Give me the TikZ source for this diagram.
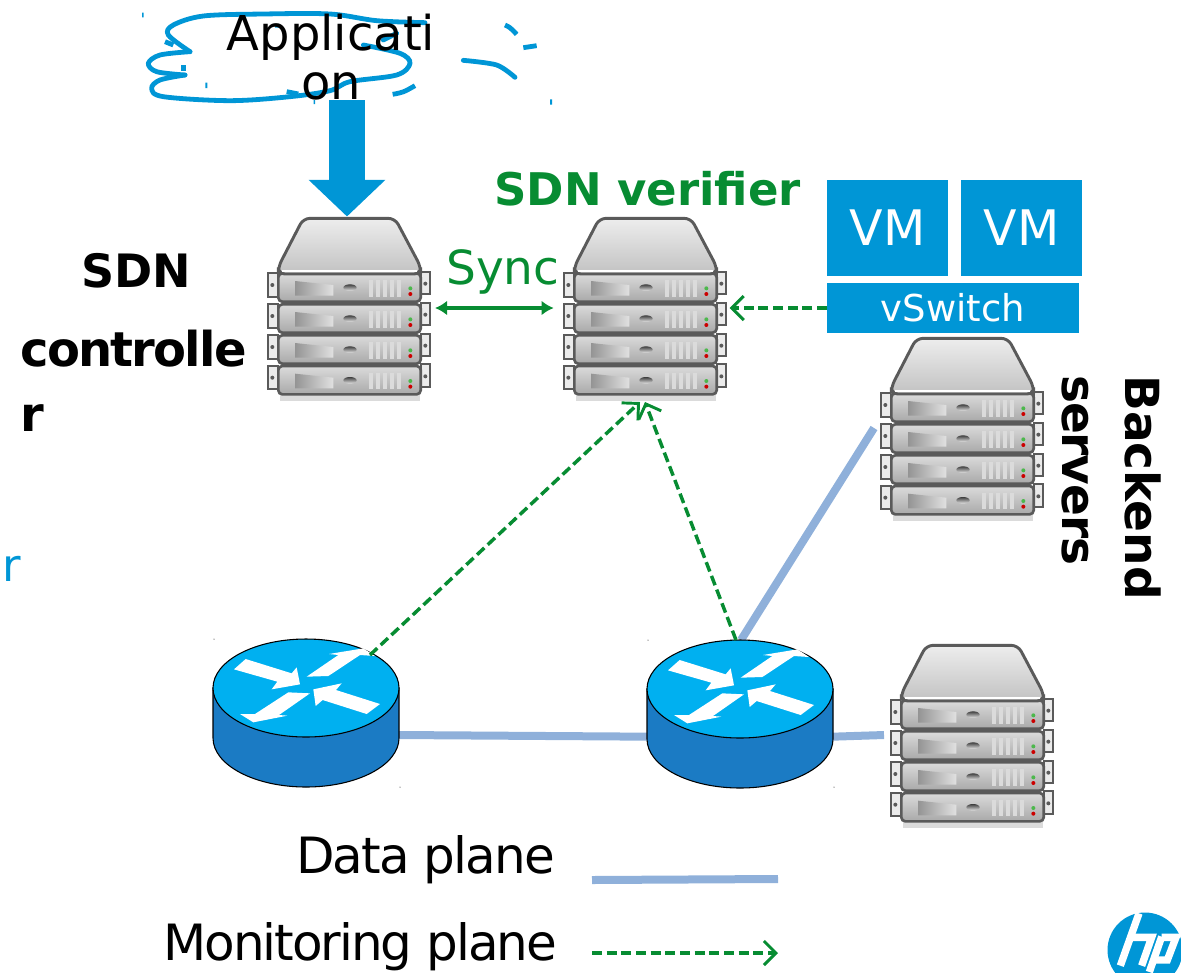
\documentclass[tikz,border=0pt]{standalone}
\usepackage{fontspec}
\setmainfont{DejaVu Sans}
\usetikzlibrary{arrows.meta,calc}
\definecolor{hpblue}{HTML}{0096D6}
\definecolor{vergreen}{HTML}{078C32}
\definecolor{dataline}{HTML}{8FB0DA}
\definecolor{rtop}{HTML}{00B0F0}
\definecolor{rside}{HTML}{1B7BC4}
\definecolor{srvedge}{HTML}{5A5A5A}
\newcommand{\pxsize}[1]{\fontsize{\dimexpr#1pt*3/4\relax}{\dimexpr#1pt*3/4\relax}\selectfont}
\newcommand{\srvunit}[1]{%
  \begin{scope}[yshift=#1*-0.25pt]
    \fill[white!92!black,draw=srvedge,line width=1.5pt] (40,205) rectangle (68,275);
    \fill[white!92!black,draw=srvedge,line width=1.5pt] (497,200) rectangle (525,268);
    \fill[srvedge] (52,240) circle (6);
    \fill[srvedge] (511,236) circle (6);
    \shade[top color=white!86!black,bottom color=white!66!black,draw=srvedge,line width=2pt,rounded corners=3pt] (70,205) rectangle (497,290);
    \shade[left color=white!58!black,right color=white!88!black] (120,228) -- (235,240) -- (235,272) -- (120,272) -- cycle;
    \shade[top color=white!25!black,bottom color=white!90!black] (285,248) ellipse (20 and 10);
    \foreach \vx in {342,363,384,405,426}{\fill[white!86!black] (\vx,225) rectangle +(12,50);}
    \fill[green!60!black!70!white] (466,250) circle (6);
    \fill[red!80!black] (466,267) circle (6);
  \end{scope}}
\tikzset{
  serverbox/.style={minimum width=123pt,minimum height=137.25pt,inner sep=0pt,outer sep=0pt},
  routerbox/.style={minimum width=139.5pt,minimum height=111pt,inner sep=0pt,outer sep=0pt},
  vmbox/.style={fill=hpblue,text=white,inner sep=0pt,outer sep=0pt,font=\pxsize{49}},
  dataedge/.style={dataline,line width=6pt},
  monedge/.style={vergreen,line width=2.6pt,dash pattern=on 7.5pt off 3.5pt,-{Straight Barb[length=9pt,width=18pt,line width=2.2pt]}},
  syncedge/.style={vergreen,line width=2.4pt,{Latex[length=9pt,width=11pt]}-{Latex[length=9pt,width=11pt]}},
  appedge/.style={hpblue,line width=27pt,-{Triangle[length=27.5pt,width=56pt]}},
  cloudline/.style={hpblue,line width=3.6pt,line cap=round,line join=round},
  servericon/.pic={
    \begin{scope}[x=0.25pt,y=-0.25pt,shift={(-282,-309)}]
      \fill[black!14] (75,570) rectangle (495,587);
      \srvunit{278}
      \srvunit{186}
      \srvunit{93}
      \srvunit{0}
      \shade[top color=white!93!black,bottom color=white!76!black,draw=srvedge,line width=2.2pt,rounded corners=5pt]
        (145,40) -- (420,40) -- (497,185) -- (497,207) -- (70,207) -- (70,185) -- cycle;
      \draw[white,line width=1.2pt] (80,198) -- (487,198);
    \end{scope}
  },
  routericon/.pic={
    \begin{scope}[x=0.75pt,y=-0.75pt]
      \fill[rside,draw=black,line width=0.8pt] (-93,0) -- (-93,50) arc[start angle=180,end angle=0,x radius=93,y radius=49] -- (93,0) -- cycle;
      \fill[rtop,draw=black,line width=0.8pt] (0,0) ellipse (93 and 49);
      \begin{scope}[x=0.25pt,y=-0.25pt,shift={(-318,-174)}]
        \fill[white] (137,87) -- (275,130) -- (290,112) -- (300,163) -- (215,178) -- (232,155) -- (102,118) -- cycle;
        \fill[white] (320,140) -- (415,75) -- (387,72) -- (490,55) -- (525,78) -- (480,75) -- (385,138) -- cycle;
        \fill[white] (265,187) -- (330,190) -- (237,255) -- (262,257) -- (160,277) -- (120,252) -- (165,252) -- cycle;
        \fill[white] (340,178) -- (425,160) -- (408,180) -- (540,222) -- (500,252) -- (368,210) -- (347,228) -- cycle;
      \end{scope}
    \end{scope}
  }
}
\begin{document}
\begin{tikzpicture}[x=0.75pt,y=-0.75pt]
\useasboundingbox (0,0) rectangle (1181,972);
\clip (0,0) rectangle (1181,972);

% hand-drawn cloud
\begin{scope}[x=0.25pt,y=-0.25pt,shift={(390,0)}]
  \draw[cloudline] plot[smooth,tension=0.55] coordinates {(885,68) (740,62) (600,42) (400,42) (220,48) (130,75) (115,105) (180,155)};
  \draw[cloudline] plot[smooth,tension=0.55] coordinates {(180,155) (90,165) (55,190) (80,215) (165,225)};
  \draw[cloudline] plot[smooth,tension=0.55] coordinates {(165,225) (90,240) (65,265) (100,290) (300,302) (480,290) (600,272) (660,245) (800,225) (840,190) (810,160) (700,135)};
  \draw[cloudline] (760,120) -- (800,100);
  \draw[cloudline,line cap=butt] (1125,75) .. controls (1140,82) .. (1160,103);
  \draw[cloudline,line cap=butt] (1180,143) -- (1220,137);
  \draw[cloudline] plot[smooth] coordinates {(1000,181) (1100,195) (1155,232)};
  \draw[cloudline,line cap=butt] (788,283) .. controls (820,277) .. (855,257);
  \draw[cloudline,line cap=butt] (105,125) -- (130,135);
  \draw[cloudline,line cap=butt] (470,275) -- (505,282);
  \draw[cloudline,line cap=butt] (160,196) -- (160,212);
  \fill[hpblue] (36,38) rectangle (41,52) (226,248) rectangle (232,264) (551,300) rectangle (555,312) (1260,298) rectangle (1266,314) (435,73) rectangle (447,83);
\end{scope}

% nodes
\node[serverbox] (ctrl) at (349,308) {};
\node[serverbox] (verif) at (645,308) {};
\node[serverbox] (back) at (962,428) {};
\node[serverbox] (edge) at (972,735) {};
\node[routerbox] (rone) at (306,713) {};
\node[routerbox] (rtwo) at (740,714) {};
\node[vmbox,minimum width=90.75pt,minimum height=72pt] (vma) at (887.5,228) {VM};
\node[vmbox,minimum width=90.75pt,minimum height=72pt] (vmb) at (1021.5,228) {VM};
\node[vmbox,minimum width=189pt,minimum height=37.5pt,font=\pxsize{37}] (vsw) at (953,308) {vSwitch};
\coordinate (appfoot) at (347,100);
\coordinate (ronep) at ($(rone.center)+(64,-58)$);
\coordinate (rtwop) at ($(rtwo.center)+(-4,-74)$);
\coordinate (rtwoq) at ($(rtwo.center)+(1,-74)$);
\coordinate (verifa) at (640,402);
\coordinate (verifb) at (645,402);
\coordinate (dataa) at (592,880);
\coordinate (datab) at (778,879);
\coordinate (mona) at (592,953);
\coordinate (monb) at (778,953);

% data plane lines, below the routers
\draw[dataedge] ([yshift=-16.5pt]rone.east) -- ([yshift=-17pt]rtwo.west);
\draw[dataedge] ([yshift=-17pt]rtwo.east) -- ([xshift=-4.5pt]edge.west);
\draw[dataedge] (rtwoq) -- ([xshift=-4.5pt]back.west);

\pic at (ctrl.center) {servericon};
\pic at (verif.center) {servericon};
\pic at (back.center) {servericon};
\pic at (edge.center) {servericon};
\pic at (306,688) {routericon};
\pic at (740,689) {routericon};

% connectors
\draw[appedge] (appfoot) -- ([xshift=-1.5pt]ctrl.north);
\draw[syncedge] ($(ctrl.east)+(3pt,0)$) -- ($(verif.west)+(-7pt,0)$);
\draw[monedge] (vsw.west) -- ($(verif.east)+(2pt,0)$);
\draw[monedge] (ronep) -- (verifa);
\draw[monedge] (rtwop) -- (verifb);
\draw[dataedge] (dataa) -- (datab);
\draw[monedge] (mona) -- (monb);

% labels
\node[align=center,inner sep=0pt,font=\pxsize{48}] (applbl) at (331,57) {Applicati\\[0.3pt]on};
\node[anchor=base west,inner sep=0pt,text=vergreen,font=\bfseries\pxsize{45}] (verlbl) at (494,205) {SDN verifier};
\node[anchor=base west,inner sep=0pt,text=vergreen,font=\pxsize{47}] (synclbl) at (446,284) {Sync};
\node[anchor=base west,inner sep=0pt,font=\bfseries\pxsize{46}] (sdnlbl) at (81,287) {SDN};
\node[anchor=base west,inner sep=0pt,font=\bfseries\pxsize{48}] (ctllbl) at (20,366) {\addfontfeature{LetterSpace=-3.7}controlle};
\node[anchor=base west,inner sep=0pt,font=\bfseries\pxsize{48}] (ctlr) at (20,431) {r};
\node[anchor=base west,inner sep=0pt,rotate=-90,font=\bfseries\pxsize{47}] (backlbl) at (1125,375) {Backend};
\node[anchor=base west,inner sep=0pt,rotate=-90,font=\bfseries\pxsize{47}] (servlbl) at (1062,375) {\addfontfeature{LetterSpace=-2.4}servers};
\node[anchor=base west,inner sep=0pt,text=hpblue,font=\pxsize{45}] (strayr) at (2,581) {r};
\node[anchor=base west,inner sep=0pt,font=\pxsize{50}] (datalbl) at (296,873) {\addfontfeature{LetterSpace=-3.8}Data plane};
\node[anchor=base west,inner sep=0pt,font=\pxsize{50}] (monlbl) at (163,960) {\addfontfeature{LetterSpace=-4}Monitoring plane};

% hp logo
\fill[hpblue] (1145,950) circle (37.5);
\begin{scope}[x=0.25pt,y=-0.25pt,shift={(3270,2700)},white,line width=5.5pt,line join=miter]
  \draw (147,40) -- (91,197);
  \draw (118,112) -- (185,112) -- (155,197);
  \draw (215,110) -- (178,216);
  \draw (215,112) -- (258,112) -- (232,180) -- (195,180);
\end{scope}

% specks
\fill[black] (214,639) circle (0.5) (648,640) circle (0.5) (400,787) circle (0.5) (834,787) circle (0.5);
\end{tikzpicture}
\end{document}
